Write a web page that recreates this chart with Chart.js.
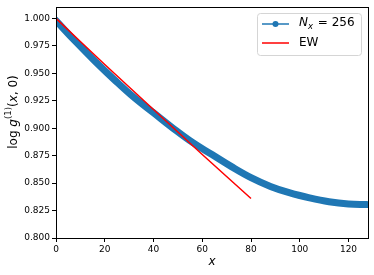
<!DOCTYPE html>
<html>
<head>
<meta charset="utf-8">
<script src="https://cdn.jsdelivr.net/npm/chart.js@4.4.1/dist/chart.umd.min.js"></script>
<style>
  html, body { margin: 0; padding: 0; background: #fff; }
  #wrap { width: 374px; height: 275px; position: relative; }
</style>
</head>
<body>
<div id="wrap"><canvas id="grafik" width="374" height="275"></canvas></div>
<script>
// N_x = 256 egrisi (okunan degerler)
const nxX = [0, 8, 16, 24, 32, 40, 48, 56, 64, 72, 80, 88, 96, 104, 112, 120, 127.5];
const nxY = [0.998, 0.979, 0.961, 0.944, 0.928, 0.914, 0.900, 0.887, 0.876, 0.865, 0.855, 0.847, 0.841, 0.8365, 0.833, 0.831, 0.8305];
// EW dogrusu
const ewX = [0, 20, 40, 60, 80];
const ewY = [1.000, 0.958, 0.917, 0.876, 0.836];
// eksen etiketleri
const xTicks = [0, 20, 40, 60, 80, 100, 120];
const yTicks = [0.800, 0.825, 0.850, 0.875, 0.900, 0.925, 0.950, 0.975, 1.000];

const MAVI = '#1f77b4';
const KIRMIZI = '#ff0000';
const FONT = '"DejaVu Sans", sans-serif';

const cizimEkle = {
    id: 'cizimEkle',
    afterDraw(chart) {
        const ctx = chart.ctx;
        const a = chart.chartArea;
        ctx.save();
        // cerceve
        ctx.strokeStyle = '#000';
        ctx.lineWidth = 1;
        ctx.strokeRect(Math.round(a.left) + 0.5, Math.round(a.top) + 0.5,
            Math.round(a.right - a.left), Math.round(a.bottom - a.top));

        // x ekseni basligi
        ctx.fillStyle = '#000';
        ctx.font = 'italic 12px ' + FONT;
        ctx.textAlign = 'center';
        ctx.textBaseline = 'middle';
        ctx.fillText('x', (a.left + a.right) / 2, 262);

        // y ekseni basligi: log g^(1)(x, 0)
        ctx.translate(14, 112);
        ctx.rotate(-Math.PI / 2);
        ctx.textAlign = 'left';
        ctx.textBaseline = 'middle';
        const parcalar = [
            { t: 'log ', f: '12px ' + FONT, dy: 0 },
            { t: 'g', f: 'italic 12px ' + FONT, dy: 0 },
            { t: '(1)', f: '8.5px ' + FONT, dy: -5 },
            { t: '(', f: '12px ' + FONT, dy: 0 },
            { t: 'x', f: 'italic 12px ' + FONT, dy: 0 },
            { t: ', 0)', f: '12px ' + FONT, dy: 0 }
        ];
        let toplam = 0;
        parcalar.forEach(p => { ctx.font = p.f; p.w = ctx.measureText(p.t).width; toplam += p.w; });
        let px = -toplam / 2;
        parcalar.forEach(p => { ctx.font = p.f; ctx.fillText(p.t, px, p.dy); px += p.w; });
        ctx.setTransform(1, 0, 0, 1, 0, 0);

        // lejant
        const lx = 257, ly = 13, lw = 104, lh = 42;
        ctx.beginPath();
        ctx.roundRect(lx + 0.5, ly + 0.5, lw, lh, 3);
        ctx.fillStyle = 'rgba(255,255,255,0.8)';
        ctx.fill();
        ctx.strokeStyle = '#d5d5d5';
        ctx.lineWidth = 1;
        ctx.stroke();

        ctx.lineWidth = 1.5;
        ctx.strokeStyle = MAVI;
        ctx.beginPath(); ctx.moveTo(262, 24); ctx.lineTo(289, 24); ctx.stroke();
        ctx.fillStyle = MAVI;
        ctx.beginPath(); ctx.arc(275.5, 24, 3, 0, Math.PI * 2); ctx.fill();
        ctx.strokeStyle = KIRMIZI;
        ctx.beginPath(); ctx.moveTo(262, 43); ctx.lineTo(289, 43); ctx.stroke();

        ctx.fillStyle = '#000';
        ctx.textBaseline = 'middle';
        ctx.textAlign = 'left';
        let tx = 299;
        ctx.font = 'italic 12px ' + FONT; ctx.fillText('N', tx, 23); tx += ctx.measureText('N').width;
        ctx.font = 'italic 8.5px ' + FONT; ctx.fillText('x', tx, 27); tx += ctx.measureText('x').width + 1;
        ctx.font = '12px ' + FONT; ctx.fillText(' = 256', tx, 23);
        ctx.fillText('EW', 299, 43);
        ctx.restore();
    }
};

new Chart(document.getElementById('grafik').getContext('2d'), {
    type: 'line',
    data: {
        datasets: [
            {
                label: 'EW',
                data: ewX.map((x, i) => ({ x: x, y: ewY[i] })),
                borderColor: KIRMIZI,
                borderWidth: 1.5,
                pointRadius: 0,
                tension: 0.3,
                order: 0
            },
            {
                label: 'N_x = 256',
                data: nxX.map((x, i) => ({ x: x, y: nxY[i] })),
                borderColor: MAVI,
                borderWidth: 7,
                pointRadius: 0,
                tension: 0.4,
                borderCapStyle: 'round',
                order: 1
            }
        ]
    },
    options: {
        responsive: false,
        animation: false,
        layout: { padding: { top: 6, right: 6, left: 0, bottom: 0 } },
        plugins: { legend: { display: false }, tooltip: { enabled: false } },
        scales: {
            x: {
                type: 'linear',
                min: 0, max: 128,
                afterBuildTicks: s => { s.ticks = xTicks.map(v => ({ value: v })); },
                afterFit: s => { s.height = 37; },
                grid: { drawOnChartArea: false, drawTicks: true, tickLength: 4, color: '#000' },
                border: { display: true, color: '#000' },
                ticks: { color: '#000', font: { family: FONT, size: 9 }, padding: 2, maxRotation: 0,
                    callback: v => String(v) }
            },
            y: {
                type: 'linear',
                min: 0.8, max: 1.01,
                afterBuildTicks: s => { s.ticks = yTicks.map(v => ({ value: v })); },
                afterFit: s => { s.width = 56; },
                grid: { drawOnChartArea: false, drawTicks: true, tickLength: 4, color: '#000' },
                border: { display: true, color: '#000' },
                ticks: { color: '#000', font: { family: FONT, size: 9 }, padding: 2,
                    callback: v => Number(v).toFixed(3) }
            }
        }
    },
    plugins: [cizimEkle]
});
</script>
</body>
</html>
